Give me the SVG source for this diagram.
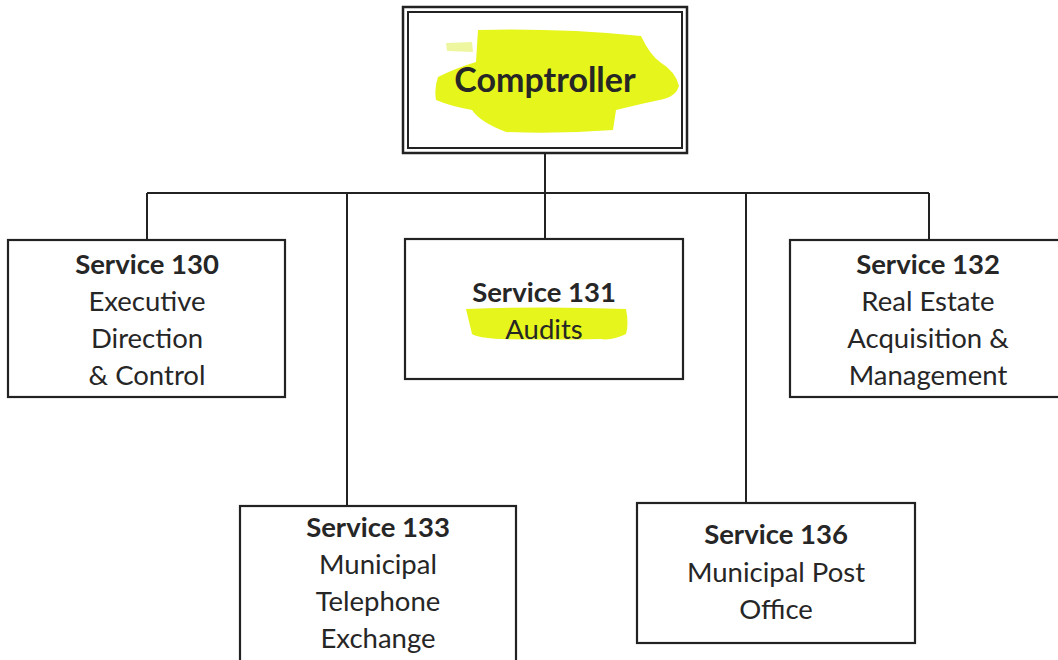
<svg xmlns="http://www.w3.org/2000/svg" width="1058" height="660" viewBox="0 0 1058 660">
<style>
.box{fill:#fff;stroke:#222;stroke-width:2.2}
.conn{fill:none;stroke:#222;stroke-width:2}
.t{font-family:Lato,"Liberation Sans",sans-serif;font-size:27.5px;fill:#262626;text-anchor:middle}
.b{font-weight:bold}
.hl{fill:#e6f51c}
</style>
<rect width="1058" height="660" fill="#fff"/>
<g id="connectors">
<path class="conn" d="M545 153 V240 M147 193 H929 M147 193 V240 M929 193 V240 M347 193 V506 M746 193 V503"/>
</g>
<g id="comptroller">
<rect x="403" y="7" width="284" height="146" fill="#fff" stroke="#222" stroke-width="2.5"/>
<rect x="408" y="12" width="274" height="136" fill="none" stroke="#222" stroke-width="2"/>
<path fill="#eef7a0" d="M446 43 L472 42 L473 52 L447 51 Z"/>
<path class="hl" d="M478 30 Q560 28 641 36 Q650 55 660 62 Q676 72 679 86 Q676 96 664 99 Q640 104 616 110 L613 130 Q560 134 506 132 Q480 122 472 110 Q450 106 436 100 Q434 88 438 77 Q456 68 476 62 Z"/>
<text class="t b" x="545" y="92" style="font-size:34px">Comptroller</text>
</g>
<g id="s130">
<rect class="box" x="8" y="240" width="277" height="157"/>
<text class="t b" x="147" y="274">Service 130</text>
<text class="t" x="147" y="311">Executive</text>
<text class="t" x="147" y="348">Direction</text>
<text class="t" x="147" y="385">&amp; Control</text>
</g>
<g id="s131">
<rect class="box" x="405" y="239" width="278" height="140"/>
<path class="hl" d="M466 309 Q545 306 626 309 Q629 324 626 334 Q612 341 600 339 Q550 340 500 339 Q478 338 472 334 Z"/>
<text class="t b" x="544" y="302">Service 131</text>
<text class="t" x="544" y="339">Audits</text>
</g>
<g id="s132">
<rect class="box" x="790" y="240" width="278" height="157"/>
<text class="t b" x="928" y="274">Service 132</text>
<text class="t" x="928" y="311">Real Estate</text>
<text class="t" x="928" y="348">Acquisition &amp;</text>
<text class="t" x="928" y="385">Management</text>
</g>
<g id="s133">
<rect class="box" x="240" y="506" width="276" height="160"/>
<text class="t b" x="378" y="537">Service 133</text>
<text class="t" x="378" y="574">Municipal</text>
<text class="t" x="378" y="611">Telephone</text>
<text class="t" x="378" y="648">Exchange</text>
</g>
<g id="s136">
<rect class="box" x="637" y="503" width="278" height="140"/>
<text class="t b" x="776" y="544">Service 136</text>
<text class="t" x="776" y="582">Municipal Post</text>
<text class="t" x="776" y="619">Office</text>
</g>
</svg>
